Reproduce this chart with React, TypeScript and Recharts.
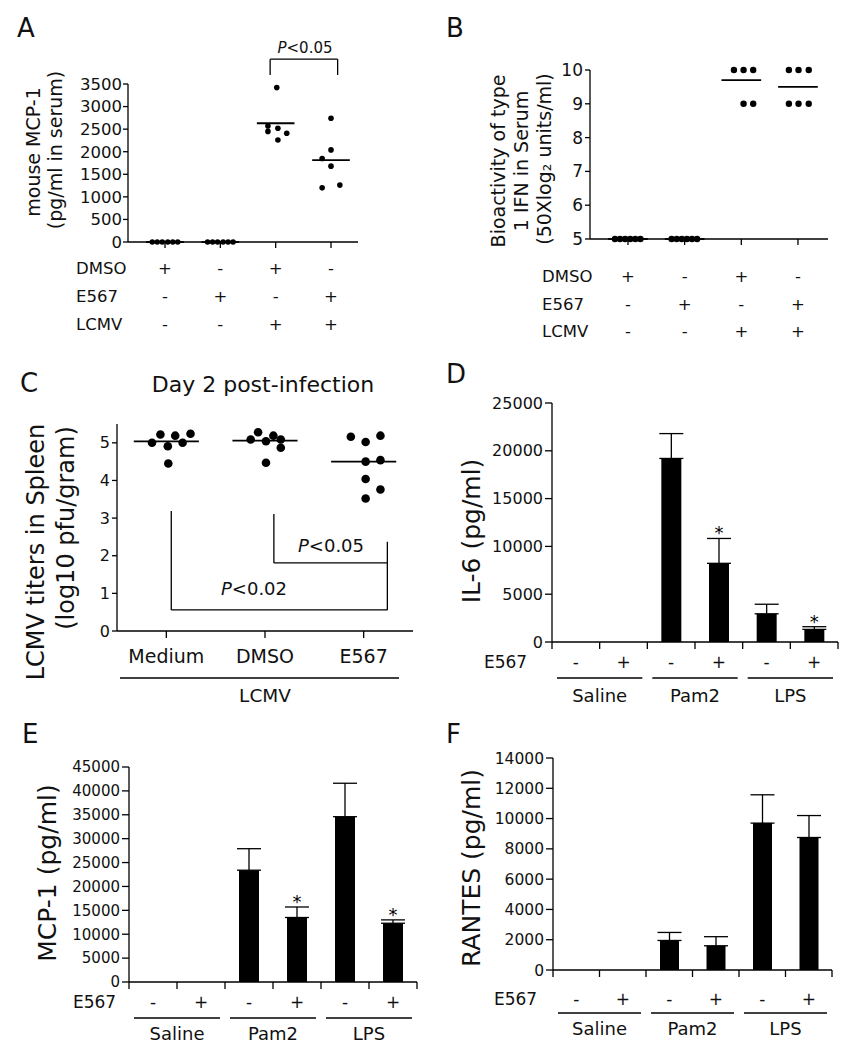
import React from "react";
import {
  ScatterChart,
  Scatter,
  BarChart,
  Bar,
  XAxis,
  YAxis,
  ReferenceLine,
  ErrorBar,
  LabelList,
} from "recharts";

const FONT = '"DejaVu Sans", Verdana, sans-serif';
const INK = "#111";

// A + B treatment table
const dmsoRow = ["+", "-", "+", "-"];
const e567Row = ["-", "+", "-", "+"];
const lcmvRow = ["-", "-", "+", "+"];

// A: mouse MCP-1 in serum
const serumMcp1 = [
  [0, 0, 0, 0, 0, 0],
  [0, 0, 0, 0, 0, 0],
  [3420, 2570, 2520, 2450, 2410, 2260],
  [2740, 2040, 1850, 1680, 1260, 1200],
];
const serumMcp1Jitter = [
  [-0.23, -0.14, -0.05, 0.05, 0.14, 0.23],
  [-0.23, -0.14, -0.05, 0.05, 0.14, 0.23],
  [0.02, -0.14, 0.04, -0.14, 0.2, 0.04],
  [0, 0, -0.16, 0, 0.16, -0.16],
];
const serumMcp1Mean = [0, 0, 2630, 1815];
const serumMcp1Ticks = [0, 500, 1000, 1500, 2000, 2500, 3000, 3500];
const serumBracket = [
  [{ x: 1.9, y: 3700 }, { x: 1.9, y: 4050 }],
  [{ x: 1.9, y: 4050 }, { x: 3.12, y: 4050 }],
  [{ x: 3.12, y: 4050 }, { x: 3.12, y: 3700 }],
];

// B: type 1 IFN bioactivity
const ifnBio = [
  [5, 5, 5, 5, 5, 5],
  [5, 5, 5, 5, 5, 5],
  [10, 10, 10, 9, 9],
  [10, 10, 10, 9, 9, 9],
];
const ifnJitter = [
  [-0.23, -0.14, -0.05, 0.04, 0.13, 0.22],
  [-0.23, -0.14, -0.05, 0.04, 0.13, 0.22],
  [-0.13, 0.04, 0.21, 0.04, 0.21],
  [-0.16, 0.01, 0.19, -0.16, 0.01, 0.19],
];
const ifnMean = [5, 5, 9.7, 9.5];
const ifnTicks = [5, 6, 7, 8, 9, 10];

// C: LCMV titers in spleen
const titerGroups = ["Medium", "DMSO", "E567"];
const titers = [
  [5.0, 5.22, 4.91, 5.19, 5.0, 5.24, 4.45],
  [5.09, 5.28, 5.04, 5.19, 5.09, 4.87, 4.47],
  [5.16, 5.19, 5.02, 4.5, 4.54, 4.04, 3.76, 3.52],
];
const titerJitter = [
  [-0.145, -0.06, 0.015, 0.09, 0.165, 0.245, 0.02],
  [-0.145, -0.07, 0.01, 0.085, 0.16, 0.16, 0.01],
  [-0.13, 0.17, 0.02, 0.02, 0.17, 0.02, 0.17, 0.02],
];
const titerMean = [5.04, 5.06, 4.5];
const titerTicks = [0, 1, 2, 3, 4, 5];
const titerBrackets = [
  [{ x: 0.05, y: 3.19 }, { x: 0.05, y: 0.56 }],
  [{ x: 0.05, y: 0.56 }, { x: 2.24, y: 0.56 }],
  [{ x: 2.24, y: 2.37 }, { x: 2.24, y: 0.56 }],
  [{ x: 1.09, y: 3.11 }, { x: 1.09, y: 1.81 }],
  [{ x: 1.09, y: 1.81 }, { x: 2.24, y: 1.81 }],
];

// D, E, F: cytokines
const stimGroups = ["Saline", "Pam2", "LPS"];
const e567Signs = ["-", "+", "-", "+", "-", "+"];
const il6 = [0, 0, 19200, 8230, 2950, 1320];
const il6Err = [0, 0, 2600, 2600, 1000, 280];
const il6Star = ["", "", "", "*", "", "*"];
const il6Ticks = [0, 5000, 10000, 15000, 20000, 25000];
const mcp1 = [0, 0, 23400, 13500, 34600, 12300];
const mcp1Err = [0, 0, 4500, 2200, 7000, 700];
const mcp1Star = ["", "", "", "*", "", "*"];
const mcp1Ticks = [0, 5000, 10000, 15000, 20000, 25000, 30000, 35000, 40000, 45000];
const rantes = [0, 0, 1950, 1600, 9700, 8750];
const rantesErr = [0, 0, 530, 600, 1870, 1450];
const rantesStar = ["", "", "", "", "", ""];
const rantesTicks = [0, 2000, 4000, 6000, 8000, 10000, 12000, 14000];

const axisStyle = { stroke: "#000", strokeWidth: 1.3 };

function tableTick(rows: string[][], first: number, gap: number, font: number) {
  return (props: any) => {
    const { x, y, payload } = props;
    const i = Math.round(payload.value);
    return (
      <g>
        <line x1={x} x2={x} y1={y} y2={y + 6} stroke="#000" strokeWidth={1.3} />
        {rows.map((row, r) => (
          <text key={r} x={x} y={y + first + r * gap} textAnchor="middle" fontSize={font} fill={INK}>
            {row[i]}
          </text>
        ))}
      </g>
    );
  };
}

function nameTick(names: string[]) {
  return (props: any) => {
    const { x, y, payload } = props;
    return (
      <g>
        <line x1={x} x2={x} y1={y} y2={y + 7} stroke="#000" strokeWidth={1.3} />
        <text x={x} y={y + 32} textAnchor="middle" fontSize={19} fill={INK}>
          {names[Math.round(payload.value)]}
        </text>
      </g>
    );
  };
}

function DotPanel(p: any) {
  const points = p.values.flatMap((vals: number[], g: number) =>
    vals.map((v, i) => ({ x: g + p.jitter[g][i], y: v }))
  );
  return (
    <div style={{ position: "absolute", left: p.left, top: p.top }}>
      <ScatterChart width={p.width} height={p.height} margin={{ top: p.mt, right: p.mr, left: 0, bottom: 0 }}>
        <XAxis
          type="number"
          dataKey="x"
          domain={p.xDomain}
          ticks={p.xTicks}
          interval={0}
          tick={p.tick}
          tickLine={false}
          tickSize={0}
          tickMargin={0}
          axisLine={axisStyle}
          height={p.xHeight}
        />
        <YAxis
          type="number"
          dataKey="y"
          domain={p.yDomain}
          ticks={p.yTicks}
          interval={0}
          width={p.yWidth}
          tick={{ fontSize: p.yFont, fill: INK }}
          tickSize={p.tickSize}
          tickMargin={p.tickMargin}
          tickLine={axisStyle}
          axisLine={axisStyle}
        />
        {p.means.map((m: number, g: number) => (
          <ReferenceLine
            key={"m" + g}
            segment={[{ x: g - p.half, y: m }, { x: g + p.half, y: m }]}
            stroke="#000"
            strokeWidth={1.8}
            ifOverflow="visible"
          />
        ))}
        {p.brackets.map((s: any, k: number) => (
          <ReferenceLine key={"b" + k} segment={s} stroke="#000" strokeWidth={1.3} ifOverflow="visible" />
        ))}
        <Scatter
          data={points}
          isAnimationActive={false}
          shape={(s: any) => <circle cx={s.cx} cy={s.cy} r={p.r} fill="#000" />}
        />
      </ScatterChart>
    </div>
  );
}

function BarPanel(p: any) {
  const rows = e567Signs.map((s, i) => ({
    key: stimGroups[Math.floor(i / 2)] + " " + s,
    value: p.values[i],
    err: [0, p.errs[i]],
    star: p.stars[i],
  }));
  const plotW = p.width - p.yWidth - 10;
  const bw = plotW / rows.length;
  const o = p.offsets;
  const tick = (props: any) => {
    const { x, y, index } = props;
    return (
      <g>
        <line x1={x - bw / 2} x2={x - bw / 2} y1={y} y2={y + 7} stroke="#000" strokeWidth={1.3} />
        {index === rows.length - 1 && (
          <line x1={x + bw / 2} x2={x + bw / 2} y1={y} y2={y + 7} stroke="#000" strokeWidth={1.3} />
        )}
        <text x={x} y={y + o[0]} textAnchor="middle" fontSize={17} fill={INK}>
          {e567Signs[index]}
        </text>
        {index % 2 === 1 && (
          <g>
            <line x1={x - 1.5 * bw + 5} x2={x + bw / 2 - 5} y1={y + o[1]} y2={y + o[1]} stroke="#000" strokeWidth={1.3} />
            <text x={x - bw / 2} y={y + o[2]} textAnchor="middle" fontSize={18} fill={INK}>
              {stimGroups[(index - 1) / 2]}
            </text>
          </g>
        )}
      </g>
    );
  };
  const star = (props: any) => {
    const { x, y, width, height, value } = props;
    const d = rows.find((r) => r.key === value);
    if (!d || !d.star || !d.value) return null;
    const top = y - d.err[1] * (height / d.value);
    return (
      <text x={x + width / 2} y={top + 1} textAnchor="middle" fontSize={18} fill="#000" stroke="none">
        {d.star}
      </text>
    );
  };
  return (
    <div style={{ position: "absolute", left: p.left, top: p.top }}>
      <BarChart width={p.width} height={p.height} data={rows} margin={{ top: 10, right: 10, left: 0, bottom: 0 }}>
        <XAxis
          dataKey="key"
          interval={0}
          tick={tick}
          tickLine={false}
          tickSize={0}
          tickMargin={0}
          axisLine={axisStyle}
          height={p.xHeight}
        />
        <YAxis
          type="number"
          domain={[0, p.yTicks[p.yTicks.length - 1]]}
          ticks={p.yTicks}
          interval={0}
          width={p.yWidth}
          tick={{ fontSize: p.yFont, fill: INK }}
          tickSize={7}
          tickMargin={2}
          tickLine={axisStyle}
          axisLine={axisStyle}
        />
        <Bar dataKey="value" fill="#000" barSize={p.barSize} isAnimationActive={false}>
          <ErrorBar dataKey="err" width={12} stroke="#000" strokeWidth={1.3} direction="y" />
          <LabelList dataKey="key" content={star} />
        </Bar>
      </BarChart>
    </div>
  );
}

function RotText({ x, y, size, children }: any) {
  return (
    <text transform={`translate(${x},${y}) rotate(-90)`} textAnchor="middle" fontSize={size} fill={INK}>
      {children}
    </text>
  );
}

function Overlay() {
  const t = (x: number, y: number, s: string, size = 17, anchor = "start") => (
    <text x={x} y={y} fontSize={size} fill={INK} textAnchor={anchor as any}>
      {s}
    </text>
  );
  return (
    <svg width={858} height={1050} style={{ position: "absolute", left: 0, top: 0, pointerEvents: "none" }}>
      {t(17, 37, "A", 26)}
      {t(446, 37, "B", 26)}
      {t(20, 392, "C", 26)}
      {t(446, 383, "D", 26)}
      {t(22, 743, "E", 26)}
      {t(446, 743, "F", 26)}

      <RotText x={40} y={152} size={19}>mouse MCP-1</RotText>
      <RotText x={62} y={150} size={19}>(pg/ml in serum)</RotText>
      {t(76, 274, "DMSO", 16.5)}
      {t(76, 302, "E567", 16.5)}
      {t(76, 330, "LCMV", 16.5)}
      <text x={305} y={53} fontSize={15} fill={INK} textAnchor="middle">
        <tspan fontStyle="italic">P</tspan>&lt;0.05
      </text>

      <RotText x={505} y={161} size={19}>Bioactivity of type</RotText>
      <RotText x={528} y={161} size={19}>1 IFN in Serum</RotText>
      <RotText x={551} y={159} size={19}>(50Xlog₂ units/ml)</RotText>
      {t(542, 282, "DMSO", 16.5)}
      {t(542, 310, "E567", 16.5)}
      {t(542, 337, "LCMV", 16.5)}

      {t(263, 392, "Day 2 post-infection", 22, "middle")}
      <RotText x={44} y={552} size={24}>LCMV titers in Spleen</RotText>
      <RotText x={74} y={528} size={24}>(log10 pfu/gram)</RotText>
      <text x={331} y={552} fontSize={18} fill={INK} textAnchor="middle">
        <tspan fontStyle="italic">P</tspan>&lt;0.05
      </text>
      <text x={254} y={595} fontSize={18} fill={INK} textAnchor="middle">
        <tspan fontStyle="italic">P</tspan>&lt;0.02
      </text>
      <line x1={120} x2={399} y1={678} y2={678} stroke="#000" strokeWidth={1.3} />
      {t(265, 702, "LCMV", 18.5, "middle")}

      <RotText x={480} y={531} size={25}>IL-6 (pg/ml)</RotText>
      {t(484, 668, "E567")}
      <RotText x={56} y={873} size={25}>MCP-1 (pg/ml)</RotText>
      {t(73, 1008, "E567")}
      <RotText x={480} y={868} size={25}>RANTES (pg/ml)</RotText>
      {t(494, 1005, "E567")}
    </svg>
  );
}

export default function App() {
  const tableRows = [dmsoRow, e567Row, lcmvRow];
  return (
    <div
      style={{
        position: "absolute",
        left: 0,
        top: 0,
        width: 858,
        height: 1050,
        background: "#fff",
        fontFamily: FONT,
        overflow: "hidden",
      }}
    >
      <DotPanel
        left={78} top={44} width={290} height={298} mt={40} mr={10}
        xHeight={100} yWidth={50} xDomain={[-0.669, 3.488]} xTicks={[0, 1, 2, 3]}
        yDomain={[0, 3500]} yTicks={serumMcp1Ticks} yFont={16.5} tickSize={5} tickMargin={1}
        values={serumMcp1} jitter={serumMcp1Jitter} means={serumMcp1Mean} half={0.34} r={2.8}
        brackets={serumBracket} tick={tableTick(tableRows, 32, 28, 16.5)}
      />
      <DotPanel
        left={540} top={60} width={298} height={284} mt={10} mr={10}
        xHeight={105} yWidth={50} xDomain={[-0.67, 3.53]} xTicks={[0, 1, 2, 3]}
        yDomain={[5, 10]} yTicks={ifnTicks} yFont={17} tickSize={5} tickMargin={2}
        values={ifnBio} jitter={ifnJitter} means={ifnMean} half={0.35} r={3.2}
        brackets={[]} tick={tableTick(tableRows, 43, 27.5, 16.5)}
      />
      <DotPanel
        left={77} top={414} width={344} height={292} mt={10} mr={8}
        xHeight={75} yWidth={40} xDomain={[-0.5, 2.5]} xTicks={[0, 1, 2]}
        yDomain={[0, 5.5]} yTicks={titerTicks} yFont={16} tickSize={5} tickMargin={2}
        values={titers} jitter={titerJitter} means={titerMean} half={0.33} r={4.3}
        brackets={titerBrackets} tick={nameTick(titerGroups)}
      />
      <BarPanel
        left={492} top={393} width={356} height={319} xHeight={70} yWidth={60}
        yTicks={il6Ticks} yFont={16} values={il6} errs={il6Err} stars={il6Star}
        barSize={20} offsets={[26, 36, 60]}
      />
      <BarPanel
        left={69} top={757} width={358} height={290} xHeight={65} yWidth={60}
        yTicks={mcp1Ticks} yFont={15} values={mcp1} errs={mcp1Err} stars={mcp1Star}
        barSize={20} offsets={[26, 36, 58]}
      />
      <BarPanel
        left={493} top={748} width={349} height={294} xHeight={72} yWidth={60}
        yTicks={rantesTicks} yFont={15.5} values={rantes} errs={rantesErr} stars={rantesStar}
        barSize={19} offsets={[35, 43, 65]}
      />
      <Overlay />
    </div>
  );
}
